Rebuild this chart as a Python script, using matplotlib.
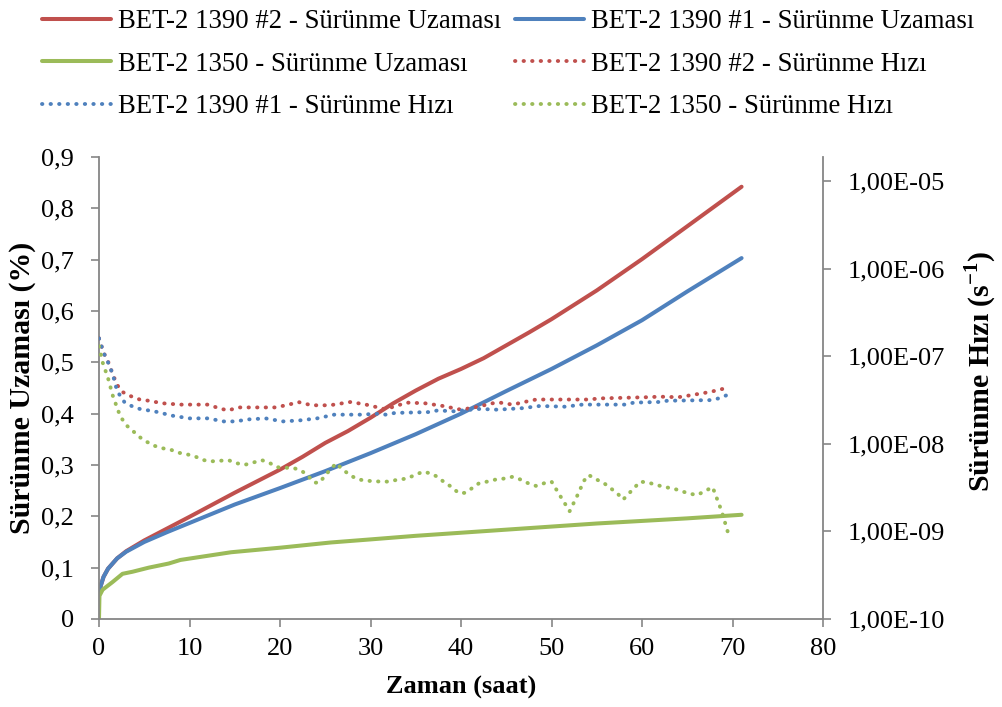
import matplotlib
matplotlib.use("Agg")
import matplotlib.pyplot as plt
from matplotlib.ticker import FixedLocator, FuncFormatter, NullLocator

plt.rcParams['font.family'] = ['Liberation Serif', 'DejaVu Serif']
plt.rcParams['mathtext.fontset'] = 'custom'
plt.rcParams['mathtext.rm'] = 'Liberation Serif'
plt.rcParams['mathtext.bf'] = 'Liberation Serif:bold'

RED = '#C0504D'
BLUE = '#4F81BD'
GREEN = '#9BBB59'
GRAY = '#868686'

# creep strain (%) vs time (h)
t_red = [0, 0.2, 0.5, 1, 2, 3, 5, 7.5, 10, 15, 20, 22.5, 25, 27.5, 30, 32.5, 35,
         37.5, 40, 42.5, 45, 47.5, 50, 55, 60, 65, 71]
eps_red = [0.05, 0.065, 0.082, 0.098, 0.118, 0.132, 0.153, 0.176, 0.199, 0.246,
           0.291, 0.316, 0.343, 0.366, 0.392, 0.420, 0.445, 0.468, 0.487, 0.508,
           0.533, 0.558, 0.584, 0.640, 0.701, 0.765, 0.842]

t_blue = [0, 0.2, 0.5, 1, 2, 3, 5, 7.5, 10, 15, 20, 25, 30, 35, 40, 45, 50, 55,
          60, 65, 71]
eps_blue = [0.05, 0.065, 0.082, 0.098, 0.118, 0.131, 0.150, 0.169, 0.187, 0.223,
            0.255, 0.288, 0.323, 0.360, 0.400, 0.444, 0.487, 0.533, 0.582, 0.638,
            0.703]

t_green = [0, 0.05, 0.4, 1.5, 2.6, 3.7, 5.5, 7.7, 9, 14.6, 20.1, 25.6, 30, 35, 40,
           45, 50, 55, 60, 65, 71]
eps_green = [0.0, 0.045, 0.057, 0.072, 0.088, 0.092, 0.100, 0.108, 0.115, 0.130,
             0.139, 0.149, 0.155, 0.162, 0.168, 0.174, 0.180, 0.186, 0.191, 0.196,
             0.203]

# creep rate (1/s) vs time (h)
tr_red = [0, 0.5, 1, 1.5, 2, 2.6, 3.5, 4.5, 5.5, 7, 9, 11, 12, 13, 14.2, 15.5, 17,
          19.5, 21, 22, 23.5, 25.5, 27.8, 29.5, 31.5, 32.3, 34, 36, 38, 40, 41.5,
          43.5, 44.3, 45.7, 47, 48.3, 52, 54, 55.5, 58, 60.5, 62, 64, 65.5, 67.5,
          69.6]
rate_red = [1.6e-7, 1.1e-7, 8.7e-8, 6.3e-8, 4.7e-8, 3.9e-8, 3.5e-8, 3.2e-8, 3.1e-8,
            2.9e-8, 2.8e-8, 2.8e-8, 2.8e-8, 2.6e-8, 2.4e-8, 2.6e-8, 2.6e-8, 2.6e-8,
            2.8e-8, 3.0e-8, 2.75e-8, 2.75e-8, 3.0e-8, 2.8e-8, 2.5e-8, 2.6e-8,
            2.95e-8, 2.9e-8, 2.7e-8, 2.45e-8, 2.6e-8, 2.9e-8, 2.95e-8, 2.8e-8,
            3.0e-8, 3.2e-8, 3.2e-8, 3.2e-8, 3.3e-8, 3.35e-8, 3.4e-8, 3.45e-8,
            3.4e-8, 3.6e-8, 3.9e-8, 4.4e-8]

tr_blue = [0, 0.5, 1, 1.5, 2, 2.8, 3.6, 4.5, 5.5, 6.5, 8, 10, 12, 13.8, 15, 16.6,
           18.4, 20.3, 22.2, 24.1, 26, 28.8, 30.8, 31.7, 32.7, 36.4, 37.4, 39.2,
           41.1, 42.1, 44, 46.8, 48.7, 51.5, 53.4, 58.1, 59.1, 61.9, 62.8, 67.5,
           68.5, 69.4]
rate_blue = [1.6e-7, 1.1e-7, 8.5e-8, 6.3e-8, 4.0e-8, 3.0e-8, 2.7e-8, 2.5e-8, 2.4e-8,
             2.3e-8, 2.1e-8, 1.95e-8, 1.95e-8, 1.8e-8, 1.8e-8, 1.9e-8, 1.95e-8,
             1.8e-8, 1.85e-8, 1.95e-8, 2.15e-8, 2.15e-8, 2.2e-8, 2.15e-8, 2.25e-8,
             2.3e-8, 2.4e-8, 2.35e-8, 2.45e-8, 2.5e-8, 2.45e-8, 2.55e-8, 2.7e-8,
             2.65e-8, 2.8e-8, 2.8e-8, 2.95e-8, 3.0e-8, 3.1e-8, 3.15e-8, 3.3e-8,
             3.6e-8]

tr_green = [0, 0.4, 0.7, 1, 1.25, 1.5, 1.8, 2.1, 2.5, 3.1, 3.75, 4.45, 5.3, 6.1, 7,
            8, 8.8, 9.7, 10.7, 11.6, 12.4, 14.3, 15.2, 16.1, 18, 18.9, 19.7, 21.6,
            22.4, 23.1, 23.8, 24.4, 25, 25.6, 26.2, 26.9, 27.6, 28.4, 29.3, 31.1,
            32.1, 33, 34, 34.9, 35.8, 36.6, 37.4, 38.2, 39, 39.7, 40.4, 41.2, 42,
            42.9, 43.8, 44.7, 45.7, 46.6, 47.4, 48.3, 49.2, 50, 51, 52, 52.8, 53.6,
            54.1, 55, 55.8, 57.3, 57.9, 59.8, 60.7, 62.5, 63.4, 65.2, 66.1, 67.8,
            68.8, 69.6]
rate_green = [1.3e-7, 8.5e-8, 6.9e-8, 5.6e-8, 4.5e-8, 3.6e-8, 2.95e-8, 2.4e-8,
              1.95e-8, 1.6e-8, 1.4e-8, 1.2e-8, 1.05e-8, 9.5e-9, 8.9e-9, 8.5e-9,
              7.9e-9, 7.6e-9, 7.1e-9, 6.5e-9, 6.3e-9, 6.5e-9, 6.0e-9, 5.75e-9,
              6.5e-9, 6.0e-9, 5.4e-9, 5.25e-9, 4.9e-9, 4.3e-9, 3.6e-9, 3.6e-9,
              4.4e-9, 5.1e-9, 6.0e-9, 5.1e-9, 4.5e-9, 4.0e-9, 3.8e-9, 3.7e-9,
              3.7e-9, 3.9e-9, 4.0e-9, 4.4e-9, 4.8e-9, 4.6e-9, 4.2e-9, 3.6e-9,
              3.2e-9, 2.75e-9, 2.75e-9, 3.1e-9, 3.55e-9, 3.7e-9, 3.9e-9, 4.0e-9,
              4.2e-9, 3.9e-9, 3.55e-9, 3.3e-9, 3.55e-9, 3.7e-9, 2.5e-9, 1.7e-9,
              2.5e-9, 3.8e-9, 4.4e-9, 3.9e-9, 3.55e-9, 2.7e-9, 2.3e-9, 3.7e-9,
              3.6e-9, 3.2e-9, 3.1e-9, 2.7e-9, 2.6e-9, 3.2e-9, 1.7e-9, 8.9e-10]

x_ticks = [0, 10, 20, 30, 40, 50, 60, 70, 80]
y_ticks = [0, 0.1, 0.2, 0.3, 0.4, 0.5, 0.6, 0.7, 0.8, 0.9]
rate_ticks = [1e-10, 1e-9, 1e-8, 1e-7, 1e-6, 1e-5]

labels = ['BET-2 1390 #2 - Sürünme Uzaması', 'BET-2 1390 #1 - Sürünme Uzaması',
          'BET-2 1350 - Sürünme Uzaması', 'BET-2 1390 #2 - Sürünme Hızı',
          'BET-2 1390 #1 - Sürünme Hızı', 'BET-2 1350 - Sürünme Hızı']

FS = 19
fig = plt.figure(figsize=(10.02, 7.07), dpi=100)
ax = fig.add_axes([0.0988, 0.1245, 0.7226, 0.6535])
ax2 = ax.twinx()

solid_kw = dict(lw=2.9, solid_capstyle='round', solid_joinstyle='round')
h1, = ax.plot(t_red, eps_red, color=RED, **solid_kw)
h2, = ax.plot(t_blue, eps_blue, color=BLUE, **solid_kw)
h3, = ax.plot(t_green, eps_green, color=GREEN, **solid_kw)

dot_kw = dict(lw=2.8, linestyle=(0, (0.1, 2.1)), dash_capstyle='round')
h4, = ax2.plot(tr_red, rate_red, color=RED, **dot_kw)
h5, = ax2.plot(tr_blue, rate_blue, color=BLUE, **dot_kw)
h6, = ax2.plot(tr_green, rate_green, color=GREEN, **dot_kw)

ax.set_xlim(0, 80)
ax.set_ylim(0, 0.9)
ax2.set_yscale('log')
ax2.set_ylim(1e-10, 1.88e-5)

ax.xaxis.set_major_locator(FixedLocator(x_ticks))
ax.yaxis.set_major_locator(FixedLocator(y_ticks))
ax.yaxis.set_major_formatter(FuncFormatter(
    lambda v, p: '0' if abs(v) < 1e-9 else f'{v:.1f}'.replace('.', ',')))
ax2.yaxis.set_major_locator(FixedLocator(rate_ticks))
ax2.yaxis.set_minor_locator(NullLocator())
ax2.yaxis.set_major_formatter(FuncFormatter(
    lambda v, p: f'{v:.2E}'.replace('.', ',')))

for a in (ax, ax2):
    for s in a.spines.values():
        s.set_color(GRAY)
        s.set_linewidth(1.3)
    a.spines['top'].set_visible(False)
ax.spines['right'].set_visible(False)
ax2.spines['left'].set_visible(False)
ax2.spines['bottom'].set_visible(False)

ax.tick_params(axis='x', direction='out', length=6, width=1.2, color=GRAY,
               labelsize=FS, pad=8)
ax.tick_params(axis='y', direction='out', length=6, width=1.2, color=GRAY,
               labelsize=FS, pad=12)
ax2.tick_params(axis='y', direction='out', length=6, width=1.2, color=GRAY,
                labelsize=FS, pad=12)

fig.text(0.022, 0.452, 'Sürünme Uzaması (%)', rotation=90, ha='center',
         va='center', fontsize=21.5, fontweight='bold')
fig.text(0.979, 0.475, r'Sürünme Hızı (s$^{\mathbf{-1}}$)', rotation=90,
         ha='center', va='center', fontsize=21.5, fontweight='bold')
fig.text(0.46, 0.027, 'Zaman (saat)', ha='center', va='center',
         fontsize=FS, fontweight='bold')

handles = [h1, h3, h5, h2, h4, h6]
order = [0, 2, 4, 1, 3, 5]
fig.legend(handles, [labels[i] for i in order], ncol=2, loc='upper center',
           bbox_to_anchor=(0.507, 1.002), frameon=False, fontsize=19.3,
           handlelength=2.6, handletextpad=0.25, columnspacing=0.5,
           labelspacing=0.65, borderaxespad=0)

fig.savefig('out.png', dpi=100)
